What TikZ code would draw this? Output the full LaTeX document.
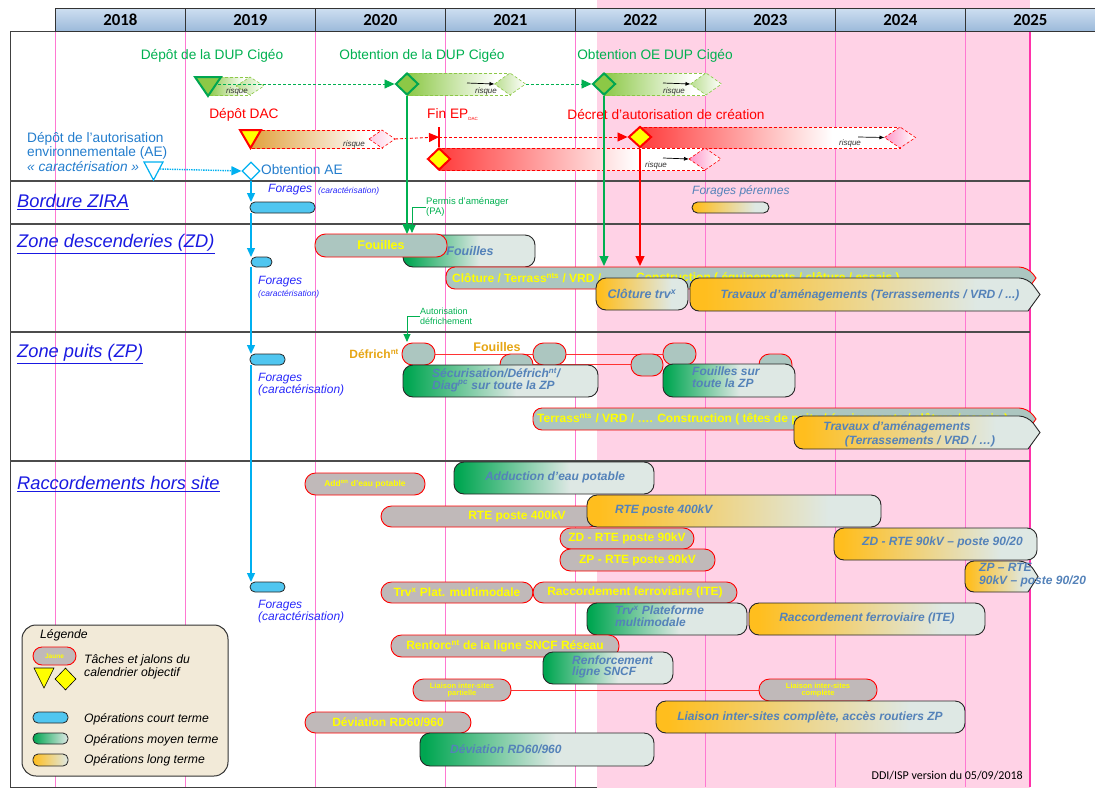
\documentclass[tikz,border=0pt]{standalone}
\usepackage{fontspec}
\setmainfont{Liberation Sans}
\newfontfamily\calfont{Carlito}
\usetikzlibrary{arrows.meta,shapes.geometric}
\newcommand\fz[1]{\fontsize{#1}{#1}\selectfont}
\newcommand\fzl[2]{\fontsize{#1}{#2}\selectfont}
\definecolor{gA}{RGB}{0,166,81}
\definecolor{gL}{RGB}{222,232,228}
\definecolor{oA}{RGB}{255,190,30}
\definecolor{grT}{RGB}{172,198,192}
\definecolor{grR}{RGB}{192,185,185}
\definecolor{tb}{RGB}{84,130,185}
\definecolor{pinkbg}{RGB}{255,210,230}
\definecolor{pinkln}{RGB}{255,120,210}
\definecolor{pinkdk}{RGB}{255,50,170}
\definecolor{grn}{RGB}{0,176,80}
\definecolor{cyn}{RGB}{0,176,240}
\definecolor{cybar}{RGB}{80,198,240}
\definecolor{secblue}{RGB}{25,25,225}
\definecolor{fblue}{RGB}{40,40,250}
\definecolor{aeblue}{RGB}{35,125,205}
\definecolor{lgreen}{RGB}{140,200,70}
\definecolor{gold}{RGB}{230,165,20}
\definecolor{hdrA}{RGB}{205,222,240}
\definecolor{hdrB}{RGB}{155,185,218}
\definecolor{legbg}{RGB}{242,234,216}
\definecolor{rA}{RGB}{255,60,60}
\definecolor{pk}{RGB}{255,150,200}
\definecolor{oB}{RGB}{225,160,60}
\definecolor{ylw}{RGB}{255,255,0}
\pgfdeclarehorizontalshading{shG}{100bp}{color(0bp)=(gA); color(26bp)=(gA); color(54bp)=(gL); color(100bp)=(gL)}
\pgfdeclarehorizontalshading{shO}{100bp}{color(0bp)=(oA); color(27bp)=(oA); color(66bp)=(gL); color(100bp)=(gL)}
\pgfdeclarehorizontalshading{shR}{100bp}{color(0bp)=(rA); color(25bp)=(rA); color(62bp)=(white); color(100bp)=(white)}
\pgfdeclarehorizontalshading{shGB}{100bp}{color(0bp)=(lgreen); color(25bp)=(lgreen); color(68bp)=(white); color(100bp)=(white)}
\pgfdeclarehorizontalshading{shOB}{100bp}{color(0bp)=(oB); color(25bp)=(oB); color(70bp)=(white); color(100bp)=(white)}
\newcommand\bx[6]{\node[#6, anchor=north west, inner sep=0pt, outer sep=0pt, minimum width={#4-#2}, minimum height={#5-#3}] (#1) at (#2,#3) {};}
\newcommand\chev[7]{\path[#7] (#6,{(#3+#5)/2}) -- (#4,#5) [rounded corners=9pt] -- (#2,#5) -- (#2,#3) -- (#4,#3) [sharp corners] -- cycle; \coordinate (#1) at ({(#2+#4)/2},{(#3+#5)/2});}
\newcommand\band[9]{%
 \path[shade, shading=#6, draw=#7, densely dashed, line width=0.6pt] (#1,#2) rectangle (#4,#3);
 \path[#8, draw=#7, densely dashed, line width=0.6pt] ({#4-#5},{(#2+#3)/2}) coordinate (#9) -- (#4,#2) -- ({#4+#5},{(#2+#3)/2}) coordinate (#9r) -- (#4,#3) -- cycle;}
\begin{document}
\begin{tikzpicture}[x=1pt,y=-1pt,
 gbox/.style={draw=black!85, line width=0.9pt, shade, shading=shG, rounded corners=10pt},
 obox/.style={draw=black!85, line width=0.9pt, shade, shading=shO, rounded corners=10pt},
 tbox/.style={draw=red, line width=0.9pt, fill=grT, rounded corners=10.5pt},
 rbox/.style={draw=red, line width=0.9pt, fill=grR, rounded corners=10.5pt},
 cbox/.style={draw=black!85, line width=0.8pt, fill=cybar, rounded corners=5pt},
 tpath/.style={draw=red, line width=0.9pt, fill=grT},
 opath/.style={draw=black!85, line width=0.9pt, shade, shading=shO},
 yt/.style={text=ylw, font=\bfseries\fz{12}, inner sep=0pt},
 bt/.style={text=tb, font=\bfseries\itshape\fz{12}, inner sep=0pt},
 sec/.style={anchor=west, text=secblue, font=\itshape\fz{18.3}, inner sep=0pt},
 ft/.style={text=fblue, font=\itshape\fz{12}, inner sep=0pt, anchor=west},
 fts/.style={text=fblue, font=\itshape\fz{8.5}, inner sep=0pt, anchor=west},
 risq/.style={text=black!80, font=\itshape\fz{8}, inner sep=0pt},
 hdr/.style={draw=black!80, line width=0.9pt, top color=hdrA, bottom color=hdrB, font=\calfont\bfseries\fz{16.8}, inner sep=0pt, minimum width=130, minimum height=23, anchor=north west},
 tip/.style={-{Triangle[length=10pt,width=9pt]}},
 rk/.style={-{Latex[length=5pt,width=4pt]}, line width=0.7pt},
 ms/.style={text=grn, font=\fz{13.7}, inner sep=0pt},
 lgt/.style={font=\itshape\fz{12.2}, anchor=west, inner sep=0pt}
]
\useasboundingbox (0,0) rectangle (1095,790);
% frame and background
\draw[black!75, line width=1pt] (55,31) -- (10,31) -- (10,787) -- (1030,787);
\fill[pinkbg] (597,0) rectangle (1030,788);
\foreach \x in {55,185,...,965} \draw[pinkln, line width=0.8pt] (\x,31) -- (\x,787);
\draw[pinkdk, line width=1.2pt] (1030,31) -- (1030,787);
\foreach \yr [count=\i from 0] in {2018,...,2025} {\node[hdr] (h\yr) at ({55+130*\i},8) {\yr};}
\foreach \y in {181,224,332,461} \draw[black!70, line width=1.2pt] (10,\y) -- (1030,\y);

% milestone texts
\node[ms] (t1) at (212,56) {Dépôt de la DUP Cigéo};
\node[ms] (t2) at (422,56) {Obtention de la DUP Cigéo};
\node[ms] (t3) at (655,56) {Obtention OE DUP Cigéo};
\node[ms, text=red] (t4) at (244,115) {Dépôt DAC};
\node[ms, text=red, anchor=west] (t5) at (427,115) {Fin EP\raisebox{-2pt}{\fz{4.5}DAC}};
\node[ms, text=red] (t6) at (666,115) {Décret d'autorisation de création};
\node[text=aeblue, font=\fzl{13.7}{14.5}, align=left, anchor=north west, inner sep=0pt] (tae) at (27,132) {Dépôt de l'autorisation\\environnementale (AE)\\\itshape « caractérisation »};

% bands
\band{208}{77}{95}{250}{14}{shGB}{lgreen}{left color=lgreen!60, right color=white}{rk1}
\band{407}{73}{95}{510}{15.5}{shGB}{lgreen}{left color=lgreen!60, right color=white}{rk2}
\band{604}{73}{95}{706}{15.5}{shGB}{lgreen}{left color=lgreen!60, right color=white}{rk3}
\band{250}{130}{148}{382}{13}{shOB}{red}{left color=pk!50, right color=white}{rk4}
\band{640}{127}{148}{900}{15.5}{shR}{red}{left color=pk, right color=white}{rk5}
\band{439}{148}{170}{705}{16}{shR}{red}{left color=pk, right color=white}{rk6}
\node[risq] (q1) at (237,91) {risque};
\node[risq] (q2) at (486,91) {risque};
\node[risq] (q3) at (674,91) {risque};
\node[risq] (q4) at (354,144) {risque};
\node[risq] (q5) at (850,143) {risque};
\node[risq] (q6) at (656,165) {risque};
\coordinate (a2) at (467,83); \coordinate (a3) at (663,83);
\coordinate (a5) at (858,137); \coordinate (a6) at (663,158);
\draw[rk] (a2) -- (rk2); \draw[rk] (a3) -- (rk3);
\draw[rk] (a5) -- (rk5); \draw[rk] (a6) -- (rk6);

% markers
\path[fill=lgreen, draw=gA, line width=2pt, line join=miter] (195,77) -- (221,77) -- (208,96) -- cycle;
\coordinate (tr1) at (218,84);
\node[diamond, fill=lgreen, draw=gA, line width=2pt, minimum width=23, minimum height=22, inner sep=0pt] (m2) at (407,84) {};
\node[diamond, fill=lgreen, draw=gA, line width=2pt, minimum width=23, minimum height=22, inner sep=0pt] (m3) at (604,84) {};
\path[fill=ylw, draw=red, line width=2pt, line join=miter] (240,130) -- (261,130) -- (250.5,148) -- cycle;
\node[diamond, fill=ylw, draw=red, line width=2pt, minimum width=23, minimum height=21, inner sep=0pt] (m5) at (640,137) {};
\node[diamond, fill=ylw, draw=red, line width=2pt, minimum width=23, minimum height=22, inner sep=0pt] (m4) at (439,159) {};
\path[fill=white, draw=cyn, line width=1.2pt] (144,162) -- (163,162) -- (153.5,180) -- cycle;
\coordinate (tr3) at (160,169);
\node[diamond, fill=white, draw=cyn, line width=1.2pt, minimum width=18, minimum height=18, inner sep=0pt] (mAE) at (251,171) {};
\node[text=aeblue, font=\fz{13.7}, anchor=west, inner sep=0pt] (oae) at (261,170) {Obtention AE};
\coordinate (finEP) at (439,137);
\draw[grn, densely dashed, line width=0.9pt, tip] (tr1) -- (m2.west);
\draw[grn, densely dashed, line width=0.9pt, tip] (rk2r) -- (m3.west);
\draw[red, densely dashed, line width=0.9pt, tip] (rk4r) -- (finEP);
\draw[red, densely dashed, line width=0.9pt, tip] (finEP) -- (m5.west);
\draw[red, line width=1.2pt] (439,127) -- (m4.north);
\draw[cyn, densely dotted, line width=1.4pt, tip] (tr3) -- (mAE.west);

% section labels
\node[sec] (sZ) at (17,202) {\underline{Bordure ZIRA}};
\node[sec] (sD) at (17,244) {\underline{Zone descenderies (ZD)}};
\node[sec] (sP) at (17,354) {\underline{Zone puits (ZP)}};
\node[sec] (sR) at (17,484) {\underline{Raccordements hors site}};

% ZIRA
\bx{cb1}{250}{202}{315}{213}{cbox}
\node[ft] (f1) at (268,190) {Forages};
\node[fts] (f1b) at (318,191) {(caractérisation)};
\bx{fp}{692}{202}{769}{213}{obox, rounded corners=5.5pt}
\node[text=tb, font=\itshape\fz{12}, anchor=west, inner sep=0pt] (fpt) at (692,191) {Forages pérennes};

% ZD
\bx{zdG}{403}{235}{535}{267}{gbox}
\bx{zdF}{315}{234}{447}{257}{tbox}
\node[yt, font=\bfseries\fz{12.5}] (zdFt) at (zdF) {Fouilles};
\node[bt, font=\bfseries\itshape\fz{12.5}] (zdGt) at (470,251) {Fouilles};
\chev{zdC}{446}{267}{1028}{289}{1036}{tpath}
\node[yt, anchor=west] (zdCt1) at (452,278) {Clôture / Terrass\textsuperscript{nts} / VRD / …};
\node[yt, anchor=west] (zdCt2) at (636,278) {Construction ( équipements / clôture / essais )};
\coordinate (zdtop) at (0,266);
\bx{zdK}{596}{278}{688}{310}{obox}
\node[bt, font=\bfseries\itshape\fz{12.5}] (zdKt) at (zdK) {Clôture trv\textsuperscript{x}};
\chev{zdT}{690}{278}{1028}{311}{1040}{opath}
\node[bt] (zdTt) at (870,295) {Travaux d'aménagements (Terrassements / VRD / ...)};
\bx{cb2}{251}{257}{272}{267}{cbox}
\node[ft] (f2) at (258,282) {Forages};
\node[fts] (f2b) at (258,294) {(caractérisation)};
\node[text=grn, font=\fzl{9.5}{10}, align=left, anchor=west, inner sep=0pt] (pa) at (426,207) {Permis d'aménager\\(PA)};
\node[text=grn, font=\fzl{9}{10}, align=left, anchor=west, inner sep=0pt] (ad) at (420,316) {Autorisation\\défrichement};
\coordinate (paT) at (412,233);
\coordinate (adT) at (407,342);
\draw[grn, line width=0.9pt, -{Triangle[length=8pt,width=7pt]}] (pa.west) -| (paT);
\draw[grn, line width=0.9pt, -{Triangle[length=8pt,width=7pt]}] (ad.west) -| (adT);

% vertical milestone arrows
\draw[grn, line width=1.3pt, tip] (m2.south) -- (m2.south |- zdF.north);
\draw[grn, line width=1.3pt, tip] (m3.south) -- (m3.south |- zdtop);
\draw[red, line width=1.3pt, tip] (m5.south) -- (m5.south |- zdtop);

% ZP
\draw[red!80, line width=1pt] (418,354) -- (680,354);
\draw[red!80, line width=1pt] (516,364.5) -- (647,364.5);
\bx{s1}{402}{343}{435}{365}{tbox}
\bx{s2}{500}{354}{533}{376}{tbox}
\bx{s3}{533}{343}{566}{365}{tbox}
\bx{s4}{631}{354}{663}{376}{tbox}
\bx{s5}{663}{343}{696}{365}{tbox}
\bx{s6}{759}{354}{792}{376}{tbox}
\node[text=gold, font=\bfseries\fz{12}, anchor=east, inner sep=0pt] (dfr) at (399,354) {Défrich\textsuperscript{nt}};
\node[text=gold, font=\bfseries\fz{12.5}, inner sep=0pt] (fzp) at (497,347) {Fouilles};
\bx{zpS}{403}{365}{598}{397}{gbox}
\node[bt, align=left, font=\bfseries\itshape\fzl{12}{11.5}, anchor=north west] (zpSt) at (432,368) {Sécurisation/Défrich\textsuperscript{nt}/\\Diag\textsuperscript{pc} sur toute la ZP};
\bx{zpF}{663}{364}{795}{397}{gbox}
\node[bt, align=left, font=\bfseries\itshape\fzl{12}{11.5}, anchor=north west] (zpFt) at (692,367) {Fouilles sur\\toute la ZP};
\chev{zpC}{533}{408}{1028}{430}{1036}{tpath}
\node[yt, anchor=west] (zpCt) at (537,419) {Terrass\textsuperscript{nts} / VRD / …. Construction ( têtes de puits / équipements / clôture / essais )};
\chev{zpT}{794}{416}{1028}{449}{1040}{opath}
\node[bt] (zpTt1) at (897,427) {Travaux d'aménagements};
\node[bt] (zpTt2) at (920,441) {(Terrassements / VRD / …)};
\bx{cb3}{250}{354}{285}{365}{cbox}
\node[ft, align=left, font=\itshape\fzl{12}{11}, anchor=north west] (f3) at (258,373) {Forages\\(caractérisation)};

% Raccordements
\bx{rA1}{305}{473}{425}{495}{rbox}
\node[yt, font=\bfseries\fz{8.5}] (rA1t) at (rA1) {Add\textsuperscript{on} d'eau potable};
\bx{rA2}{454}{462}{654}{494}{gbox}
\node[bt] (rA2t) at (555,477) {Adduction d'eau potable};
\bx{rB1}{381}{506}{600}{527}{rbox}
\node[yt] (rB1t) at (517,516) {RTE poste 400kV};
\bx{rB2}{587}{495}{881}{527}{obox}
\node[bt, anchor=west] (rB2t) at (615,510) {RTE poste 400kV};
\bx{rC1}{560}{528}{694}{549}{rbox}
\node[yt] (rC1t) at (rC1) {ZD - RTE poste 90kV};
\bx{rD1}{560}{549}{715}{571}{rbox}
\node[yt] (rD1t) at (rD1) {ZP - RTE poste 90kV};
\bx{rC2}{834}{528}{1037}{560}{obox}
\node[bt, anchor=west] (rC2t) at (862,542) {ZD - RTE 90kV – poste 90/20};
\chev{rD2}{965}{561}{1028}{592}{1038}{opath}
\node[bt, align=left, font=\bfseries\itshape\fzl{12}{13}, anchor=north west] (rD2t) at (979,563) {ZP – RTE\\90kV – poste 90/20};
\bx{rE1}{381}{582}{533}{603}{rbox}
\node[yt] (rE1t) at (rE1) {Trv\textsuperscript{x} Plat. multimodale};
\bx{rF1}{533}{582}{737}{603}{rbox}
\node[yt] (rF1t) at (rF1) {Raccordement ferroviaire (ITE)};
\bx{rE2}{587}{603}{747}{635}{gbox}
\node[bt, align=left, font=\bfseries\itshape\fzl{12}{11.5}, anchor=north west] (rE2t) at (615,606) {Trv\textsuperscript{x} Plateforme\\multimodale};
\bx{rF2}{749}{603}{985}{635}{obox}
\node[bt] (rF2t) at (867,618) {Raccordement ferroviaire (ITE)};
\bx{rG1}{391}{635}{619}{657}{rbox}
\node[yt] (rG1t) at (505,646) {Renforc\textsuperscript{nt} de la ligne SNCF Réseau};
\bx{rG2}{543}{652}{673}{684}{gbox}
\node[bt, align=left, font=\bfseries\itshape\fzl{12}{10.5}, anchor=north west] (rG2t) at (572,656) {Renforcement\\ligne SNCF};
\draw[red!80, line width=1pt] (505,690) -- (765,690);
\bx{rH1}{413}{679}{511}{701}{rbox}
\node[yt, align=center, font=\bfseries\fzl{7.5}{7.5}] (rH1t) at (rH1) {Liaison inter-sites\\partielle};
\bx{rH2}{759}{679}{877}{701}{rbox}
\node[yt, align=center, font=\bfseries\fzl{7.5}{7.5}] (rH2t) at (rH2) {Liaison inter-sites\\complète};
\bx{rI2}{656}{701}{965}{733}{obox}
\node[bt] (rI2t) at (810,717) {Liaison inter-sites complète, accès routiers ZP};
\bx{rJ1}{305}{712}{471}{733}{rbox}
\node[yt] (rJ1t) at (388,722) {Déviation RD60/960};
\bx{rJ2}{420}{733}{654}{766}{gbox}
\node[bt, anchor=west] (rJ2t) at (450,749) {Déviation RD60/960};
\bx{cb4}{250}{582}{285}{592}{cbox}
\node[ft, align=left, font=\itshape\fzl{12}{11}, anchor=north west] (f4) at (258,600) {Forages\\(caractérisation)};

% cyan vertical arrows
\draw[cyn, line width=1.3pt, -{Triangle[length=9pt,width=8pt]}] (mAE.south) -- (mAE.south |- cb1.north);
\draw[cyn, line width=1.3pt, -{Triangle[length=9pt,width=8pt]}] (cb1.south -| mAE) -- (cb2.north -| mAE);
\draw[cyn, line width=1.3pt, -{Triangle[length=9pt,width=8pt]}] (cb2.south -| mAE) -- (cb3.north -| mAE);
\draw[cyn, line width=1.3pt, -{Triangle[length=9pt,width=8pt]}] (cb3.south -| mAE) -- (cb4.north -| mAE);

% legend
\bx{leg}{22}{625}{228}{776}{draw=black!80, line width=1pt, fill=legbg, rounded corners=14pt}
\node[lgt] (legt) at (40,635) {Légende};
\bx{lj}{33}{647}{76}{665}{rbox, rounded corners=9pt}
\node[yt, font=\bfseries\fz{6.5}] (ljt) at (lj) {Jaune};
\node[font=\itshape\fzl{12.2}{13}, align=left, anchor=north west, inner sep=0pt] (lt1) at (84,654) {Tâches et jalons du\\calendrier objectif};
\path[fill=ylw, draw=black, line width=0.6pt] (34,668) -- (54,668) -- (44,688) -- cycle;
\node[diamond, fill=ylw, draw=black, line width=0.6pt, minimum width=21, minimum height=22, inner sep=0pt] (ld) at (65.5,679) {};
\bx{lc}{33}{712}{68}{723}{cbox}
\bx{lg}{33}{733}{68}{744}{draw=black!85, line width=0.8pt, rounded corners=5pt, left color=gA, right color=gL}
\bx{lo}{33}{754}{68}{766}{draw=black!85, line width=0.8pt, rounded corners=5pt, left color=oA, right color=gL}
\node[lgt] (lct) at (84,719) {Opérations court terme};
\node[lgt] (lgt) at (84,740) {Opérations moyen terme};
\node[lgt] (lot) at (84,760) {Opérations long terme};

\node[font=\calfont\fz{12}, anchor=east, inner sep=0pt] (ddi) at (1023,776) {DDI/ISP version du 05/09/2018};
\end{tikzpicture}
\end{document}
